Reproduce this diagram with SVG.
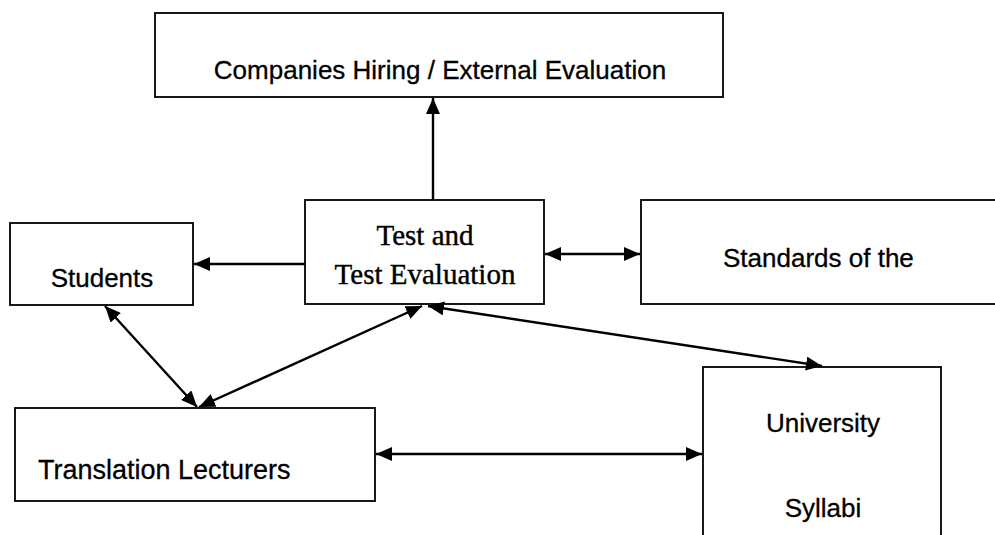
<svg xmlns="http://www.w3.org/2000/svg" width="995" height="535" viewBox="0 0 995 535">
  <style>
    .box { fill: #fff; stroke: #000; stroke-width: 1.8; }
    .sans { font-family: "Liberation Sans", Arial, sans-serif; font-size: 26px; fill: #000; stroke: #000; stroke-width: 0.3; }
    .serif { font-family: "Liberation Serif", "Times New Roman", serif; font-size: 29px; fill: #000; stroke: #000; stroke-width: 0.4; }
    .link { stroke: #000; stroke-width: 2.4; fill: none; }
  </style>
  <defs>
    <!-- filled triangular arrowhead, reused at both ends of two-way links -->
    <marker id="head" markerUnits="userSpaceOnUse" markerWidth="17" markerHeight="14" refX="16" refY="7" orient="auto-start-reverse">
      <path d="M0,0 L16,7 L0,14 Z" fill="#000"/>
    </marker>
  </defs>
  <rect width="995" height="535" fill="#fff"/>

  <g id="companies">
    <rect class="box" x="155" y="13" width="568" height="84"/>
    <text class="sans" x="440" y="79" text-anchor="middle">Companies Hiring / External Evaluation</text>
  </g>

  <g id="test">
    <rect class="box" x="305" y="200" width="239" height="104"/>
    <text class="serif" x="425" y="245" text-anchor="middle">Test and</text>
    <text class="serif" x="425" y="284" text-anchor="middle">Test Evaluation</text>
  </g>

  <g id="students">
    <rect class="box" x="10" y="223" width="183" height="82"/>
    <text class="sans" x="102" y="287" text-anchor="middle">Students</text>
  </g>

  <g id="standards">
    <rect class="box" x="641" y="200" width="360" height="104"/>
    <text class="sans" x="723" y="267">Standards of the</text>
  </g>

  <g id="lecturers">
    <rect class="box" x="15" y="408" width="360" height="93"/>
    <text class="sans" x="38" y="479" style="font-size:27px">Translation Lecturers</text>
  </g>

  <g id="syllabi">
    <rect class="box" x="703" y="367" width="238" height="180"/>
    <text class="sans" x="823" y="432" text-anchor="middle">University</text>
    <text class="sans" x="823" y="517" text-anchor="middle">Syllabi</text>
  </g>

  <g id="connectors">
    <line class="link" x1="433" y1="200" x2="433" y2="98" marker-end="url(#head)"/>
    <line class="link" x1="305" y1="264" x2="194" y2="264" marker-end="url(#head)"/>
    <line class="link" x1="545" y1="254" x2="640" y2="254" marker-start="url(#head)" marker-end="url(#head)"/>
    <line class="link" x1="105" y1="306" x2="197" y2="407" marker-start="url(#head)" marker-end="url(#head)"/>
    <line class="link" x1="199" y1="407" x2="422" y2="306" marker-start="url(#head)" marker-end="url(#head)"/>
    <line class="link" x1="428" y1="306" x2="822" y2="366" marker-start="url(#head)" marker-end="url(#head)"/>
    <line class="link" x1="376" y1="454" x2="702" y2="454" marker-start="url(#head)" marker-end="url(#head)"/>
  </g>
</svg>
